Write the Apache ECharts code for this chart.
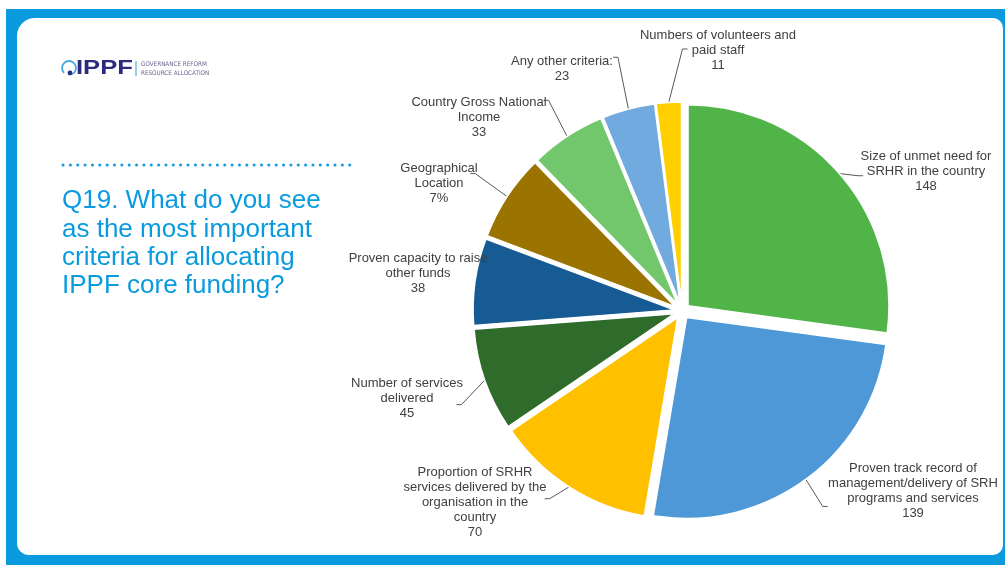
<!DOCTYPE html>
<html>
<head>
<meta charset="utf-8">
<title>Q19 criteria for allocating IPPF core funding</title>
<script src="https://cdn.jsdelivr.net/npm/echarts@6/dist/echarts.min.js"></script>
<style>
  html, body { margin: 0; padding: 0; background: #fff; }
  #chart { width: 1005px; height: 565px; }
</style>
</head>
<body>
<div id="chart"></div>
<script>
// criteria, clockwise from 12 o'clock
const categories = [
  'Size of unmet need for\nSRHR in the country',
  'Proven track record of\nmanagement/delivery of SRH\nprograms and services',
  'Proportion of SRHR\nservices delivered by the\norganisation in the\ncountry',
  'Number of services\ndelivered',
  'Proven capacity to raise\nother funds',
  'Geographical\nLocation',
  'Country Gross National\nIncome',
  'Any other criteria:',
  'Numbers of volunteers and\npaid staff'
]
const responses = [148, 139, 70, 45, 38, 38, 33, 23, 11]
// the Geographical Location slice is labelled with its share, not its count
const showAsPercent = [false, false, false, false, false, true, false, false, false]

const sliceColors = ['#50b448', '#4e98d7', '#ffc000', '#2f6c2b', '#165b94', '#9b7300', '#72c76d', '#71aade', '#ffcf00']
// label block centres and where each leader line meets its label (null = no leader)
const labelCentres = [
  [926, 171], [913, 491], [475, 502], [407, 398], [418, 273],
  [439, 183], [479, 117], [562, 69], [718, 50]
]
const leaderEnds = [
  [857, 181], [823, 500], [549, 492], [464, 402], null,
  [477, 178], [548, 107], [615, 65], [688, 57]
]

const SELECT_OFFSET = 8
const LABEL_FONT = '13px "Liberation Sans", Arial, sans-serif'
const LINE_H = 15
const PIE_CENTER = [682, 311]

const ctx = document.createElement('canvas').getContext('2d')
ctx.font = LABEL_FONT

const total = responses.reduce((a, b) => a + b, 0)
function labelText(i, percent) {
  const v = showAsPercent[i] ? Math.round(percent) + '%' : String(responses[i])
  return categories[i] + '\n' + v
}
const labelLines = categories.map((_, i) => labelText(i, responses[i] / total * 100).split('\n'))
const labelW = labelLines.map((ls) => Math.ceil(Math.max(...ls.map((l) => ctx.measureText(l).width))))

// mid angle of each slice, clockwise from 12 o'clock (exploded slices carry their labels with them)
const midAngles = []
let run = 0
responses.forEach((v) => {
  midAngles.push((run + v / 2) / total * Math.PI * 2)
  run += v
})

const chart = echarts.init(document.getElementById('chart'))

const pieData = categories.map((name, i) => ({
  name,
  value: responses[i],
  selected: true,
  itemStyle: { color: sliceColors[i] },
  label: { rich: { t: { width: labelW[i], align: 'center', lineHeight: LINE_H } } },
  labelLine: { show: leaderEnds[i] !== null }
}))

const option = {
  backgroundColor: '#ffffff',
  animation: false,
  graphic: [
    { type: 'rect', z: 0, silent: true, shape: { x: 6, y: 9, width: 999, height: 556 }, style: { fill: '#0a9bdf' } },
    { type: 'rect', z: 1, silent: true, shape: { x: 17, y: 18, width: 986, height: 537, r: [18, 10, 10, 12] }, style: { fill: '#ffffff' } },
    // logo
    { type: 'arc', z: 2, silent: true, shape: { cx: 69, cy: 68, r: 7, startAngle: Math.PI * 0.75, endAngle: Math.PI * 2.35 }, style: { stroke: '#4aa8e0', lineWidth: 1.8, fill: null } },
    { type: 'circle', z: 2, silent: true, shape: { cx: 70, cy: 73, r: 2.4 }, style: { fill: '#2c2a7c' } },
    { type: 'text', z: 2, silent: true, x: 76, y: 68, scaleX: 1.28, style: { text: 'IPPF', font: 'bold 20px "Liberation Sans", Arial, sans-serif', fill: '#2c2a7c', verticalAlign: 'middle' } },
    { type: 'rect', z: 2, silent: true, shape: { x: 135.5, y: 61, width: 1, height: 15 }, style: { fill: '#3a9fdc' } },
    { type: 'text', z: 2, silent: true, x: 141, y: 64, style: { text: 'GOVERNANCE REFORM', font: '6.3px "DejaVu Sans Condensed", "Liberation Sans Narrow", sans-serif', fill: '#65658f', verticalAlign: 'middle' } },
    { type: 'text', z: 2, silent: true, x: 141, y: 73, style: { text: 'RESOURCE ALLOCATION', font: '6.3px "DejaVu Sans Condensed", "Liberation Sans Narrow", sans-serif', fill: '#65658f', verticalAlign: 'middle' } },
    // dotted rule + question
    { type: 'line', z: 2, silent: true, shape: { x1: 63, y1: 165, x2: 353, y2: 165 }, style: { stroke: '#1a9ce0', lineWidth: 3, lineCap: 'round', lineDash: [0.1, 7.25] } },
    { type: 'text', z: 2, silent: true, x: 62, y: 187, style: {
      text: 'Q19. What do you see\nas the most important\ncriteria for allocating\nIPPF core funding?',
      font: '26px "Liberation Sans", Arial, sans-serif', lineHeight: 28.3, fill: '#0a9bdf', verticalAlign: 'top'
    } }
  ],
  series: [
    {
      type: 'pie',
      z: 5,
      center: PIE_CENTER,
      radius: [0, 201],
      startAngle: 90,
      clockwise: true,
      selectedMode: 'multiple',
      selectedOffset: SELECT_OFFSET,
      emphasis: { disabled: true },
      avoidLabelOverlap: false,
      itemStyle: { borderColor: '#ffffff', borderWidth: 1.5 },
      label: {
        show: true,
        position: 'outside',
        color: '#404040',
        fontFamily: '"Liberation Sans", Arial, sans-serif',
        fontSize: 13,
        lineHeight: LINE_H,
        formatter: (p) => labelText(p.dataIndex, p.percent).split('\n').map((l) => '{t|' + l + '}').join('\n')
      },
      labelLine: { show: true, length: 10, length2: 10, lineStyle: { color: '#595959', width: 1 } },
      labelLayout: (params) => {
        const i = params.dataIndex
        const r = params.labelRect
        const c = labelCentres[i]
        const a = midAngles[i]
        // the label is drawn moved with its exploded slice
        const sx = SELECT_OFFSET * Math.sin(a)
        const sy = -SELECT_OFFSET * Math.cos(a)
        const out = {
          dx: c[0] - (r.x + r.width / 2) - sx,
          dy: c[1] - (r.y + r.height / 2) - sy
        }
        const end = leaderEnds[i]
        if (end && params.labelLinePoints) {
          const bend = [end[0] + (end[0] < PIE_CENTER[0] ? 5 : -5), end[1]]
          out.labelLinePoints = [params.labelLinePoints[0], bend, end]
        }
        return out
      },
      data: pieData
    }
  ]
}

chart.setOption(option)
</script>
</body>
</html>
